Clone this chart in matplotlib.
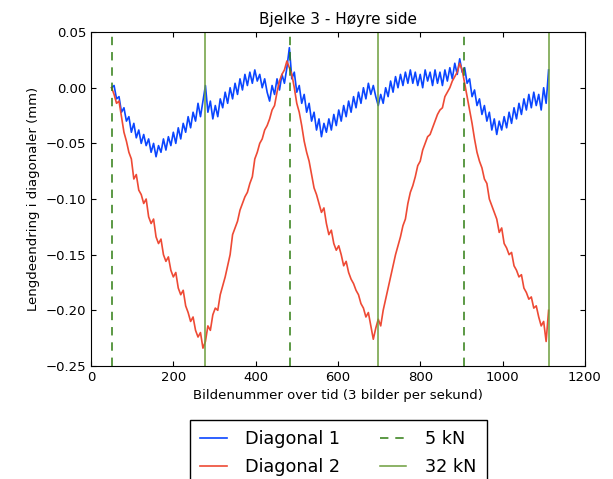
import numpy as np
import matplotlib
matplotlib.use("Agg")
import matplotlib.pyplot as plt

# frame numbers start at 50, every 6th frame
start_frame = 50
frame_step = 6

diag1 = [
    0.000, 0.002, -0.010, -0.008, -0.022, -0.018, -0.030, -0.026, -0.040, -0.032,
    -0.045, -0.038, -0.050, -0.042, -0.052, -0.046, -0.058, -0.050, -0.062, -0.052,
    -0.058, -0.046, -0.056, -0.044, -0.052, -0.040, -0.050, -0.036, -0.046, -0.032,
    -0.040, -0.026, -0.036, -0.022, -0.030, -0.014, -0.026, -0.012, 0.002, -0.022,
    -0.012, -0.028, -0.016, -0.026, -0.010, -0.018, -0.004, -0.014, 0.000, -0.010,
    0.004, -0.006, 0.008, -0.002, 0.012, 0.002, 0.014, 0.004, 0.016, 0.006,
    0.012, 0.000, 0.008, -0.004, -0.012, 0.002, -0.006, 0.008, -0.002, 0.012,
    0.004, 0.018, 0.036, 0.008, 0.014, -0.004, 0.002, -0.014, -0.006, -0.022,
    -0.014, -0.030, -0.022, -0.038, -0.028, -0.044, -0.032, -0.040, -0.028, -0.038,
    -0.024, -0.034, -0.020, -0.030, -0.016, -0.026, -0.012, -0.022, -0.008, -0.018,
    -0.004, -0.014, 0.000, -0.010, 0.004, -0.006, 0.002, -0.008, -0.016, -0.006,
    -0.014, 0.000, -0.008, 0.006, -0.004, 0.010, 0.000, 0.012, 0.002, 0.014,
    0.004, 0.016, 0.004, 0.014, 0.002, 0.012, 0.000, 0.016, 0.006, 0.014,
    0.002, 0.016, 0.004, 0.014, 0.002, 0.016, 0.006, 0.018, 0.008, 0.022,
    0.012, 0.026, 0.014, 0.018, 0.004, 0.008, -0.008, -0.002, -0.016, -0.010,
    -0.024, -0.016, -0.030, -0.022, -0.038, -0.028, -0.042, -0.030, -0.038, -0.026,
    -0.036, -0.022, -0.032, -0.018, -0.028, -0.014, -0.024, -0.010, -0.020, -0.006,
    -0.018, -0.004, -0.016, -0.006, -0.020, 0.000, -0.014, 0.016,
]

diag2 = [
    0.000, -0.006, -0.014, -0.012, -0.026, -0.040, -0.048, -0.058, -0.064, -0.082,
    -0.078, -0.092, -0.096, -0.104, -0.100, -0.116, -0.122, -0.118, -0.134, -0.140,
    -0.136, -0.150, -0.156, -0.152, -0.164, -0.170, -0.166, -0.180, -0.186, -0.182,
    -0.196, -0.202, -0.210, -0.206, -0.218, -0.224, -0.220, -0.234, -0.228, -0.214,
    -0.218, -0.204, -0.198, -0.200, -0.186, -0.178, -0.170, -0.160, -0.150, -0.132,
    -0.126, -0.120, -0.110, -0.104, -0.098, -0.094, -0.086, -0.080, -0.064, -0.058,
    -0.050, -0.046, -0.038, -0.034, -0.028, -0.020, -0.016, -0.004, 0.006, 0.012,
    0.016, 0.024, 0.018, 0.012, 0.000, -0.014, -0.022, -0.034, -0.048, -0.058,
    -0.066, -0.078, -0.090, -0.096, -0.104, -0.112, -0.108, -0.122, -0.132, -0.128,
    -0.140, -0.146, -0.142, -0.150, -0.160, -0.156, -0.166, -0.172, -0.176, -0.182,
    -0.186, -0.194, -0.198, -0.206, -0.202, -0.214, -0.226, -0.216, -0.208, -0.214,
    -0.200, -0.190, -0.180, -0.170, -0.160, -0.150, -0.142, -0.134, -0.124, -0.118,
    -0.104, -0.094, -0.088, -0.080, -0.070, -0.066, -0.056, -0.050, -0.044, -0.042,
    -0.036, -0.030, -0.024, -0.020, -0.018, -0.008, -0.004, 0.000, 0.006, 0.010,
    0.014, 0.022, 0.016, 0.004, -0.008, -0.020, -0.032, -0.046, -0.058, -0.066,
    -0.072, -0.082, -0.086, -0.100, -0.106, -0.112, -0.118, -0.130, -0.126, -0.140,
    -0.144, -0.150, -0.148, -0.160, -0.164, -0.170, -0.168, -0.180, -0.184, -0.190,
    -0.188, -0.198, -0.196, -0.206, -0.214, -0.210, -0.228, -0.200,
]

load_5kn = [51, 483, 906]
load_32kn = [277, 697, 1113]

x1 = start_frame + frame_step * np.arange(len(diag1))
x2 = start_frame + frame_step * np.arange(len(diag2))

fig = plt.figure(figsize=(6.13, 4.79), dpi=100)
ax = fig.add_axes([0.1485, 0.236, 0.8055, 0.697])

ax.plot(x1, diag1, color="#0a46ff", lw=1.2, label="Diagonal 1")
ax.plot(x2, diag2, color="#ee4a35", lw=1.2, label="Diagonal 2")
for i, xv in enumerate(load_5kn):
    ax.axvline(xv, color="#2f7d12", ls="--", dashes=(5.5, 4.5), lw=1.1,
               label="5 kN" if i == 0 else None)
for i, xv in enumerate(load_32kn):
    ax.axvline(xv, color="#6c9e3c", ls="-", lw=1.1, label="32 kN" if i == 0 else None)

ax.set_xlim(0, 1200)
ax.set_ylim(-0.25, 0.05)
ax.set_xticks(range(0, 1201, 200))
ax.set_yticks(np.arange(-0.25, 0.051, 0.05))
ax.tick_params(direction="in", top=True, right=True, labelsize=9.5)
ax.set_title("Bjelke 3 - Høyre side", fontsize=11)
ax.set_xlabel("Bildenummer over tid (3 bilder per sekund)", fontsize=9.5)
ax.set_ylabel("Lengdeendring i diagonaler (mm)", fontsize=9.5)

# legend hangs below the axes and runs past the bottom of the figure
fig.legend(loc="upper center", bbox_to_anchor=(0.552, 0.1238), ncol=2,
           borderaxespad=0, fontsize=12.7, fancybox=False, edgecolor="black",
           framealpha=1, borderpad=0.6, labelspacing=0.55, handlelength=1.5,
           handletextpad=1.05, columnspacing=2.25)

fig.savefig("out.png", dpi=100)
